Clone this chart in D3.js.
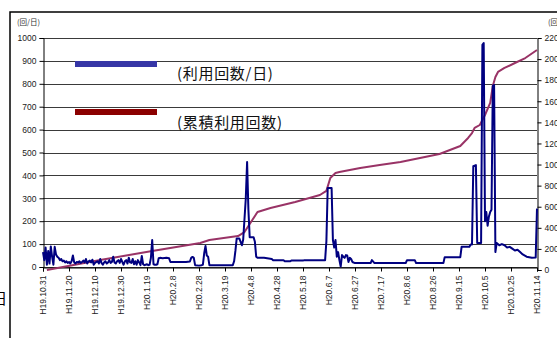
<!DOCTYPE html>
<html>
<head>
<meta charset="utf-8">
<script src="https://cdn.jsdelivr.net/npm/d3@7"></script>
<style>
  html, body { margin: 0; padding: 0; background: #fff; overflow: hidden; }
  svg { display: block; }
  .tick text { font-family: "Liberation Sans", Arial, sans-serif; }
</style>
</head>
<body>
<svg id="chart" width="557" height="338"></svg>
<script>
// Daily usage count (回/日), by day offset from H19.10.31
const usageDay = [0,1,2,3,4,5,6,7,8,9,10,11,12,13,14,15,16,17,18,19,20,21,22,23,24,25,26,27,28,29,30,31,32,33,34,35,36,37,38,39,40,41,42,43,44,45,46,47,48,49,50,51,52,53,54,55,56,57,58,59,60,61,62,63,64,65,66,67,68,69,70,71,72,73,74,75,76,77,78,79,80,81,82,83,84,85,86,87,88,89,90,92,95,97,98,105,110,113,114,115,116,117,120,122,123,124,125,126,127,128,135,140,146,147,148,149,151,152,153,154,156,157,158,159,162,163,164,165,170,176,177,185,186,190,191,200,201,210,217,218,219,222,223,224,225,226,227,228,229,230,231,232,233,234,235,236,237,238,240,252,253,255,279,280,286,287,308,309,321,322,328,329,330,331,333,334,337,338,339,340,341,342,343,344,345,346,347,348,349,351,353,355,357,359,361,363,365,367,369,372,376,379,380];
const usageCount = [65,30,85,10,70,15,90,45,10,88,55,45,40,30,35,25,28,20,25,18,22,15,25,50,20,15,22,20,25,18,22,28,20,35,15,25,28,20,32,10,18,22,25,15,35,18,10,20,25,15,20,30,18,22,45,20,15,25,30,18,35,22,10,25,30,15,40,20,18,35,12,25,10,30,20,8,48,12,8,10,12,8,10,40,118,12,10,10,12,38,40,38,40,38,22,22,22,24,40,44,40,8,6,8,10,60,92,50,45,8,8,8,8,25,70,125,125,110,95,120,300,458,250,130,130,110,45,40,40,35,30,30,25,25,28,28,30,30,30,113,345,345,118,85,118,45,65,30,2,52,45,40,52,50,22,40,35,22,17,17,30,17,17,30,30,17,17,43,43,88,88,98,98,440,445,105,105,970,978,200,240,180,220,240,250,790,795,65,105,95,100,95,85,88,80,72,75,65,55,45,40,42,255];

// Cumulative usage count (回), by day offset
const totalDay = [3,44,84,121,128,150,155,161,165,175,194,213,218,221,225,228,244,259,275,290,305,313,321,327,330,332,336,340,344,346,348,350,355,363,371,380];
const totalCount = [0,950,1800,2560,2850,3220,3600,4740,5500,5880,6450,7110,7500,8720,9200,9290,9670,9960,10240,10620,11000,11380,11760,12520,12990,13470,13750,14700,15840,17450,18300,18780,19160,19630,20100,20860];

// Date labels every 20 days
const dateLabels = ["H19.10.31","H19.11.20","H19.12.10","H19.12.30","H20.1.19","H20.2.8","H20.2.28","H20.3.19","H20.4.8","H20.4.28","H20.5.18","H20.6.7","H20.6.27","H20.7.17","H20.8.6","H20.8.26","H20.9.15","H20.10.5","H20.10.25","H20.11.14"];
const leftTicks = [0,100,200,300,400,500,600,700,800,900,1000];
const rightTicks = [0,2000,4000,6000,8000,10000,12000,14000,16000,18000,20000,22000];

const legendItems = [
  { label: "(利用回数/日)", color: "#3636a6" },
  { label: "(累積利用回数)", color: "#8b0000" }
];

const svg = d3.select("#chart");
const L = 43, R = 537, T = 38, B = 267;

const x = d3.scaleLinear().domain([0, 380]).range([L, R]);
const yL = d3.scaleLinear().domain([0, 1000]).range([B, T]);
const yR = d3.scaleLinear().domain([0, 22000]).range([270, T]);

// outer frame
svg.append("path")
  .attr("d", "M10,340 L10,12 L560,12")
  .attr("fill", "none").attr("stroke", "#000").attr("stroke-width", 1.5);

// partial caption glyph at the left edge
svg.append("text").attr("x", 6).attr("y", 304).attr("text-anchor", "end")
  .attr("font-family", "Noto Sans CJK JP").attr("font-size", 15).attr("fill", "#000").text("田");

// gridlines
svg.append("g").selectAll("line").data(leftTicks).join("line")
  .attr("x1", L).attr("x2", R)
  .attr("y1", d => Math.round(yL(d)) + 0.5).attr("y2", d => Math.round(yL(d)) + 0.5)
  .attr("stroke", "#3a3a3a").attr("stroke-width", 1);

// left axis
const gL = svg.append("g").attr("transform", `translate(${L + 0.5},0)`)
  .call(d3.axisLeft(yL).tickValues(leftTicks).tickSize(4).tickPadding(3).tickFormat(d3.format("d")));
gL.selectAll("text").attr("font-size", 8.5).attr("fill", "#222");

// right axis
const gR = svg.append("g").attr("transform", `translate(${R + 0.5},0)`)
  .call(d3.axisRight(yR).tickValues(rightTicks).tickSize(4).tickPadding(3).tickFormat(d3.format("d")));
gR.selectAll("text").attr("font-size", 8.5).attr("fill", "#222");

// bottom axis
const gB = svg.append("g").attr("transform", `translate(0,${B + 0.5})`)
  .call(d3.axisBottom(x).tickValues(d3.range(0, 381, 20)).tickSize(4).tickFormat((d, i) => dateLabels[i]));
gB.selectAll("text")
  .attr("font-size", 8.5).attr("fill", "#222")
  .attr("transform", "rotate(-90)")
  .attr("text-anchor", "end")
  .attr("x", -8).attr("y", 0).attr("dy", "0.35em");

[gL, gR, gB].forEach(g => g.selectAll("path, line").attr("stroke", "#000"));

// axis unit labels
svg.append("text").attr("x", 17).attr("y", 25)
  .attr("font-family", "Noto Sans CJK JP").attr("font-size", 7.5).attr("fill", "#333").text("(回/日)");
svg.append("text").attr("x", 548).attr("y", 25)
  .attr("font-family", "Noto Sans CJK JP").attr("font-size", 7.5).attr("fill", "#333").text("(回)");

// cumulative line
const totalLine = d3.line().x((d, i) => x(totalDay[i])).y(d => yR(d));
svg.append("path").datum(totalCount)
  .attr("d", totalLine)
  .attr("fill", "none").attr("stroke", "#993366").attr("stroke-width", 2).attr("stroke-linejoin", "round");

// daily line
const usageLine = d3.line().x((d, i) => x(usageDay[i])).y(d => yL(d));
svg.append("path").datum(usageCount)
  .attr("d", usageLine)
  .attr("fill", "none").attr("stroke", "#000080").attr("stroke-width", 2).attr("stroke-linejoin", "round");

// legend
const leg = svg.append("g");
legendItems.forEach((it, i) => {
  const yy = 61 + i * 48;
  leg.append("rect").attr("x", 75).attr("y", yy).attr("width", 82).attr("height", 6).attr("fill", it.color);
  leg.append("text").attr("x", 177).attr("y", 79 + i * 49)
    .attr("font-family", "Noto Sans CJK JP").attr("font-size", 15).attr("letter-spacing", 0.7)
    .attr("fill", "#111").text(it.label);
});
</script>
</body>
</html>
